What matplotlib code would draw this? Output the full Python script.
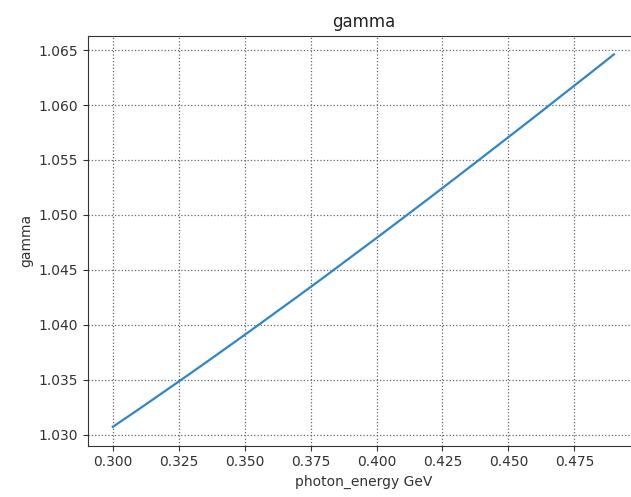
import matplotlib
matplotlib.use("Agg")
import matplotlib.pyplot as plt

# Photon energy (GeV) and the corresponding gamma factor
photon_energy = [0.30, 0.31, 0.32, 0.33, 0.34, 0.35, 0.36, 0.37, 0.38, 0.39,
                 0.40, 0.41, 0.42, 0.43, 0.44, 0.45, 0.46, 0.47, 0.48, 0.49]
gamma = [1.03071, 1.03234, 1.03400, 1.03567, 1.03737, 1.03908, 1.04082,
         1.04256, 1.04432, 1.04611, 1.04790, 1.04971, 1.05153, 1.05337,
         1.05522, 1.05708, 1.05894, 1.06083, 1.06271, 1.06461]

fig = plt.figure(figsize=(6.31, 4.97), dpi=100)
ax = fig.add_axes([0.139, 0.1036, 0.8737, 0.8245])

ax.plot(photon_energy, gamma, color="#2f86c8", linewidth=1.6)

ax.set_title("gamma", fontsize=12, color="#222222")
ax.set_xlabel("photon_energy GeV", fontsize=10, color="#333333")
ax.set_ylabel("gamma", fontsize=10, color="#333333")
ax.tick_params(labelsize=10, colors="#333333")
ax.grid(True, linestyle=":", color="#666666", linewidth=0.9)
for sp in ax.spines.values():
    sp.set_color("#333333")

fig.savefig("out.png", dpi=100)
